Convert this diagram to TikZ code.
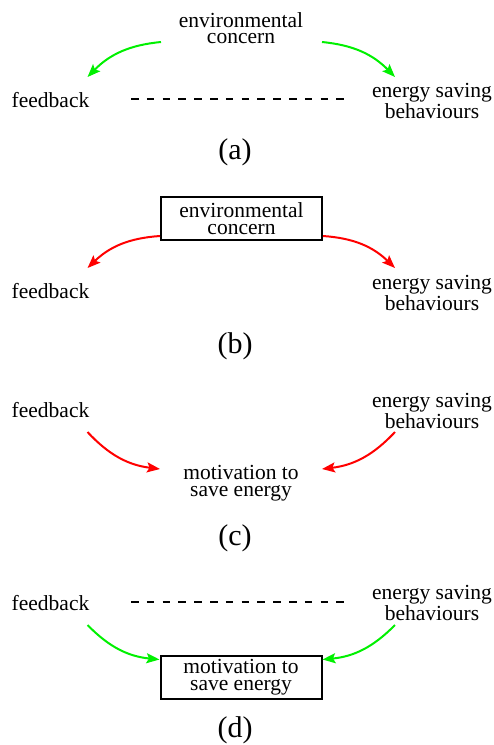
\documentclass[tikz,border=0pt]{standalone}
\usepackage{fontspec}
\setmainfont{Liberation Serif}
\usetikzlibrary{arrows.meta}
\definecolor{arrgreen}{RGB}{0,240,0}
\definecolor{arrred}{RGB}{255,0,0}
\tikzset{
  txt/.style={font=\fontsize{21.5}{16.5}\selectfont, align=center, inner sep=0pt},
  boxed/.style={txt, draw, line width=2pt, minimum width=161pt, minimum height=43pt},
  lbl/.style={font=\fontsize{30}{30}\selectfont, inner sep=0pt},
  conn/.style={line width=2pt, -{Stealth[length=13pt,width=10pt,inset=2.5pt]}},
  gconn/.style={conn, arrgreen},
  rconn/.style={conn, arrred},
  dashline/.style={line width=2pt, dash pattern=on 7.5pt off 8.3pt}
}
\begin{document}
\begin{tikzpicture}[x=1pt,y=-1pt]
\useasboundingbox (0,0) rectangle (494,745);
% ---------- (a)
\node[txt] (ecA) at (241,28) {environmental\\concern};
\node[txt] (fbA) at (50.5,100) {feedback};
\node[txt] (esA) at (432,101) {energy saving\\behaviours};
\node[lbl] (la) at (235,152) {(a)};
\coordinate (dA1) at (131,99);
\coordinate (dA2) at (347,99);
\draw[dashline] (dA1) -- (dA2);
\draw[gconn] ([shift={(-80,14)}]ecA.center) to[bend right=20] ([shift={(37,-23)}]fbA.center);
\draw[gconn] ([shift={(81,14)}]ecA.center) to[bend left=20] ([shift={(-37,-24)}]esA.center);
% ---------- (b)
\node[boxed] (ecB) at (241.5,218.5) {environmental\\concern};
\node[txt] (fbB) at (50.5,291) {feedback};
\node[txt] (esB) at (432,293) {energy saving\\behaviours};
\node[lbl] (lb) at (235,346) {(b)};
\draw[rconn] ([yshift=5]ecB.south west) to[bend right=20] ([shift={(37,-23)}]fbB.center);
\draw[rconn] ([yshift=5]ecB.south east) to[bend left=20] ([shift={(-37,-25)}]esB.center);
% ---------- (c)
\node[txt] (fbC) at (50.5,410) {feedback};
\node[txt] (esC) at (432,411) {energy saving\\behaviours};
\node[txt] (mvC) at (241,483) {motivation to\\save energy};
\node[lbl] (lc) at (235,538) {(c)};
\draw[rconn] ([shift={(37,22)}]fbC.center) to[bend right=20] ([shift={(-81,-14)}]mvC.center);
\draw[rconn] ([shift={(-37,21)}]esC.center) to[bend left=20] ([shift={(81,-14)}]mvC.center);
% ---------- (d)
\node[txt] (fbD) at (50.5,603) {feedback};
\node[txt] (esD) at (432,603) {energy saving\\behaviours};
\node[boxed] (mvD) at (241,677) {motivation to\\save energy};
\node[lbl] (ld) at (235,730) {(d)};
\coordinate (dD1) at (131,602);
\coordinate (dD2) at (347,602);
\draw[dashline] (dD1) -- (dD2);
\draw[gconn] ([shift={(37,22)}]fbD.center) to[bend right=20] ([yshift=-5]mvD.north west);
\draw[gconn] ([shift={(-37,22)}]esD.center) to[bend left=20] ([yshift=-5]mvD.north east);
\end{tikzpicture}
\end{document}
